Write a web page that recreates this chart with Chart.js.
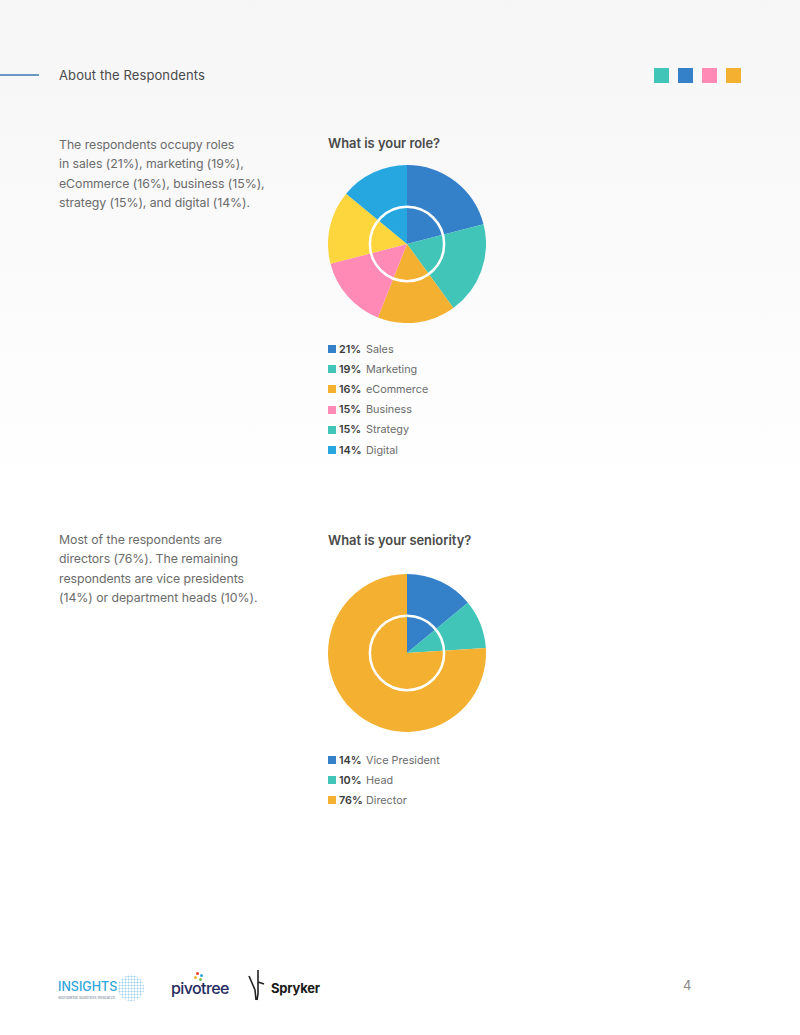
<!DOCTYPE html>
<html>
<head>
<meta charset="utf-8">
<script src="https://cdn.jsdelivr.net/npm/chart.js@4"></script>
<style>
  html, body { margin: 0; padding: 0; }
  body {
    width: 800px; height: 1035px; position: relative; overflow: hidden;
    font-family: "Inter", "Roboto", sans-serif;
    background: linear-gradient(to bottom, #f6f6f7 0px, #fbfbfc 300px, #ffffff 500px, #ffffff 1035px);
  }
  .abs { position: absolute; }
  .hline { left: 0; top: 74px; width: 39px; height: 2px; background: #6b97c4; }
  .header { left: 59px; top: 67px; font-size: 13px; color: #4a4a4a; letter-spacing: 0.1px; }
  .sq { top: 68px; width: 15px; height: 15px; }
  .para { left: 59px; font-size: 12.3px; line-height: 19.4px; color: #6b6b6b; width: 240px; letter-spacing: -0.05px; }
  .title { left: 328px; font-size: 12.9px; font-weight: 600; color: #4a4a4a; }
  .chartbox { left: 328px; width: 158px; height: 158px; }
  .legend { left: 328px; font-size: 10.8px; color: #6b6b6b; }
  .legend .row { height: 20.2px; display: flex; align-items: center; }
  .legend .sw { width: 8px; height: 8px; margin-right: 3px; }
  .legend .pct { font-weight: 600; color: #3a3a3a; width: 27px; }
  .page { left: 683px; top: 977px; font-size: 13px; color: #888; }
</style>
</head>
<body>
<div class="abs hline"></div>
<div class="abs header">About the Respondents</div>
<div class="abs sq" style="left:654px;background:#41c5b9"></div>
<div class="abs sq" style="left:678px;background:#3481c9"></div>
<div class="abs sq" style="left:702px;background:#ff8ab5"></div>
<div class="abs sq" style="left:726px;background:#f4b030"></div>

<div class="abs para" style="top:135px">The respondents occupy roles<br>in sales (21%), marketing (19%),<br>eCommerce (16%), business (15%),<br>strategy (15%), and digital (14%).</div>
<div class="abs title" style="top:136px">What is your role?</div>
<div class="abs chartbox" style="top:165px"><canvas id="c1"></canvas></div>
<div class="abs legend" id="l1" style="top:339px"></div>

<div class="abs para" style="top:530px">Most of the respondents are<br>directors (76%). The remaining<br>respondents are vice presidents<br>(14%) or department heads (10%).</div>
<div class="abs title" style="top:533px">What is your seniority?</div>
<div class="abs chartbox" style="top:574px"><canvas id="c2"></canvas></div>
<div class="abs legend" id="l2" style="top:750px"></div>

<!-- footer logos (approximated as text) -->
<div class="abs" style="left:58px;top:979px;font-size:12.5px;font-weight:500;color:#2ea6dc;letter-spacing:0px">INSIGHTS</div>
<div class="abs" style="left:58px;top:995px;font-size:4px;color:#7a8a9a">Worldwide Business Research</div>
<div class="abs" style="left:118px;top:975px;width:26px;height:26px;border-radius:50%;background-image:radial-gradient(#9fd2ee 0.9px, transparent 1.1px);background-size:3px 3px;"></div>
<div class="abs" style="left:171px;top:978px;font-size:16px;font-weight:500;color:#262b61;letter-spacing:-0.6px">pivotree</div>
<div class="abs" style="left:196px;top:972px;width:3px;height:3px;background:#e8442e;border-radius:50%"></div>
<div class="abs" style="left:200px;top:974px;width:3px;height:3px;background:#2aa8df;border-radius:50%"></div>
<div class="abs" style="left:194px;top:976px;width:3px;height:3px;background:#f6b42a;border-radius:50%"></div>
<div class="abs" style="left:199px;top:978px;width:3px;height:3px;background:#7bc143;border-radius:50%"></div>
<svg class="abs" style="left:246px;top:968px" width="22" height="34" viewBox="0 0 22 34">
  <path d="M3 8 L9 22 L10 32 M12 2 L12 26 L11 32 M12 14 L18 16" stroke="#222" stroke-width="1.6" fill="none"/>
</svg>
<div class="abs" style="left:271px;top:980px;font-size:13px;font-weight:700;color:#1a1a1a;letter-spacing:-0.2px">Spryker</div>
<div class="abs page">4</div>

<script>
const roleLabels = ["Sales", "Marketing", "eCommerce", "Business", "Strategy", "Digital"];
const roleValues = [21, 19, 16, 15, 15, 14];
const roleColors = ["#3481c9", "#41c5b9", "#f4b030", "#ff8ab5", "#fdd53c", "#27a7e0"];
const roleLegendColors = ["#3481c9", "#41c5b9", "#f4b030", "#ff8ab5", "#41c5b9", "#27a7e0"];

const seniorityLabels = ["Vice President", "Head", "Director"];
const seniorityValues = [14, 10, 76];
const seniorityColors = ["#3481c9", "#41c5b9", "#f4b030"];

const ringPlugin = {
  id: "ring",
  afterDatasetsDraw(chart) {
    const meta = chart.getDatasetMeta(0);
    const arc = meta.data[0];
    if (!arc) return;
    const ctx = chart.ctx;
    ctx.save();
    ctx.beginPath();
    ctx.arc(arc.x, arc.y, arc.outerRadius * 0.47, 0, Math.PI * 2);
    ctx.strokeStyle = "#ffffff";
    ctx.lineWidth = 2.5;
    ctx.stroke();
    ctx.restore();
  }
};

function makePie(id, labels, values, colors) {
  new Chart(document.getElementById(id), {
    type: "pie",
    data: { labels, datasets: [{ data: values, backgroundColor: colors, borderWidth: 0 }] },
    options: {
      responsive: true, maintainAspectRatio: false, animation: false,
      layout: { padding: 0 },
      plugins: { legend: { display: false }, tooltip: { enabled: false } }
    },
    plugins: [ringPlugin]
  });
}

function makeLegend(id, labels, values, colors) {
  const el = document.getElementById(id);
  labels.forEach((lab, i) => {
    const row = document.createElement("div");
    row.className = "row";
    row.innerHTML = '<span class="sw" style="background:' + colors[i] + '"></span>' +
      '<span class="pct">' + values[i] + '%</span><span>' + lab + '</span>';
    el.appendChild(row);
  });
}

makePie("c1", roleLabels, roleValues, roleColors);
makePie("c2", seniorityLabels, seniorityValues, seniorityColors);
makeLegend("l1", roleLabels, roleValues, roleLegendColors);
makeLegend("l2", seniorityLabels, seniorityValues, seniorityColors);
</script>
</body>
</html>
